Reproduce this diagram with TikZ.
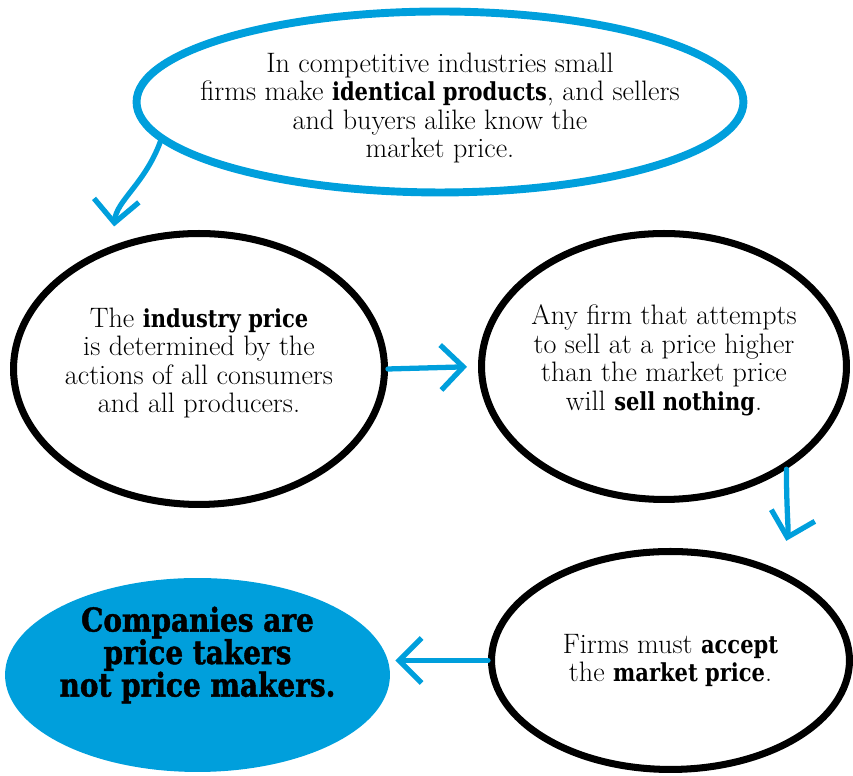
\documentclass[tikz,border=0pt]{standalone}
\usepackage{fontspec}
\usetikzlibrary{shapes.geometric,arrows.meta}

\newfontfamily\slab{DejaVu Serif}[Scale=0.88,FakeStretch=0.85]
\newfontfamily\slabheavy{DejaVu Serif}[Scale=0.85,FakeStretch=0.85,FakeBold=1.3]
\definecolor{sketchblue}{RGB}{0,159,220}
\newcommand{\boldword}[1]{{\slab\bfseries #1}}

\begin{document}
\begin{tikzpicture}[
    x=0.02cm, y=0.02cm,
    bubble/.style={
        ellipse,
        draw=black,
        line width=4pt,
        inner sep=0pt
    },
    topbubble/.style={
        bubble,
        draw=sketchblue,
        line width=4.5pt
    },
    answer/.style={
        ellipse,
        fill=sketchblue,
        inner sep=0pt
    },
    bubbletext/.style={
        align=center,
        font=\fontsize{16}{16.3}\selectfont
    },
    answertext/.style={
        align=center,
        font=\slabheavy\bfseries\fontsize{22}{18.5}\selectfont
    },
    flow/.style={
        draw=sketchblue,
        line width=3pt,
        line cap=round,
        -{Straight Barb[length=0.45cm,width=0.9cm]}
    }
]

\useasboundingbox (0,0) rectangle (853,776);

% Bubbles
\node[topbubble, minimum width=12.14cm, minimum height=3.62cm] (facts) at (440,674) {};
\node[bubble, minimum width=7.42cm, minimum height=5.42cm] (industry) at (199,407) {};
\node[bubble, minimum width=7.3cm, minimum height=5.32cm] (firm) at (664,409.5) {};
\node[bubble, minimum width=7.16cm, minimum height=4.36cm] (accept) at (670.5,115.5) {};
\node[answer, minimum width=7.7cm, minimum height=3.88cm] (result) at (197.5,101) {};

% Texts
\node[bubbletext] (factstext) at ([yshift=-0.12cm]facts.center) {
    In competitive industries small\\
    firms make \boldword{identical products}, and sellers\\
    and buyers alike know the\\
    market price.
};
\node[bubbletext] (industrytext) at ([yshift=0.12cm]industry.center) {
    The \boldword{industry price}\\
    is determined by the\\
    actions of all consumers\\
    and all producers.
};
\node[bubbletext] (firmtext) at ([yshift=0.12cm]firm.center) {
    Any firm that attempts\\
    to sell at a price higher\\
    than the market price\\
    will \boldword{sell nothing}.
};
\node[bubbletext] (accepttext) at (accept.center) {
    Firms must \boldword{accept}\\
    the \boldword{market price}.
};
\node[answertext] (resulttext) at ([yshift=0.4cm]result.center) {
    Companies are\\
    price takers\\
    not price makers.
};

% Arrows
\draw[flow, shorten >=0.38cm] (facts.188) to[out=250, in=85] (industry.125);
\draw[flow, shorten >=0.22cm] (industry.east) -- (firm.west);
\draw[flow, shorten >=0.6cm] (firm.-40) to[out=-90, in=75] (accept.40);
\draw[flow, shorten >=0.1cm] (accept.west) -- (accept.west -| result.east);

\end{tikzpicture}
\end{document}
